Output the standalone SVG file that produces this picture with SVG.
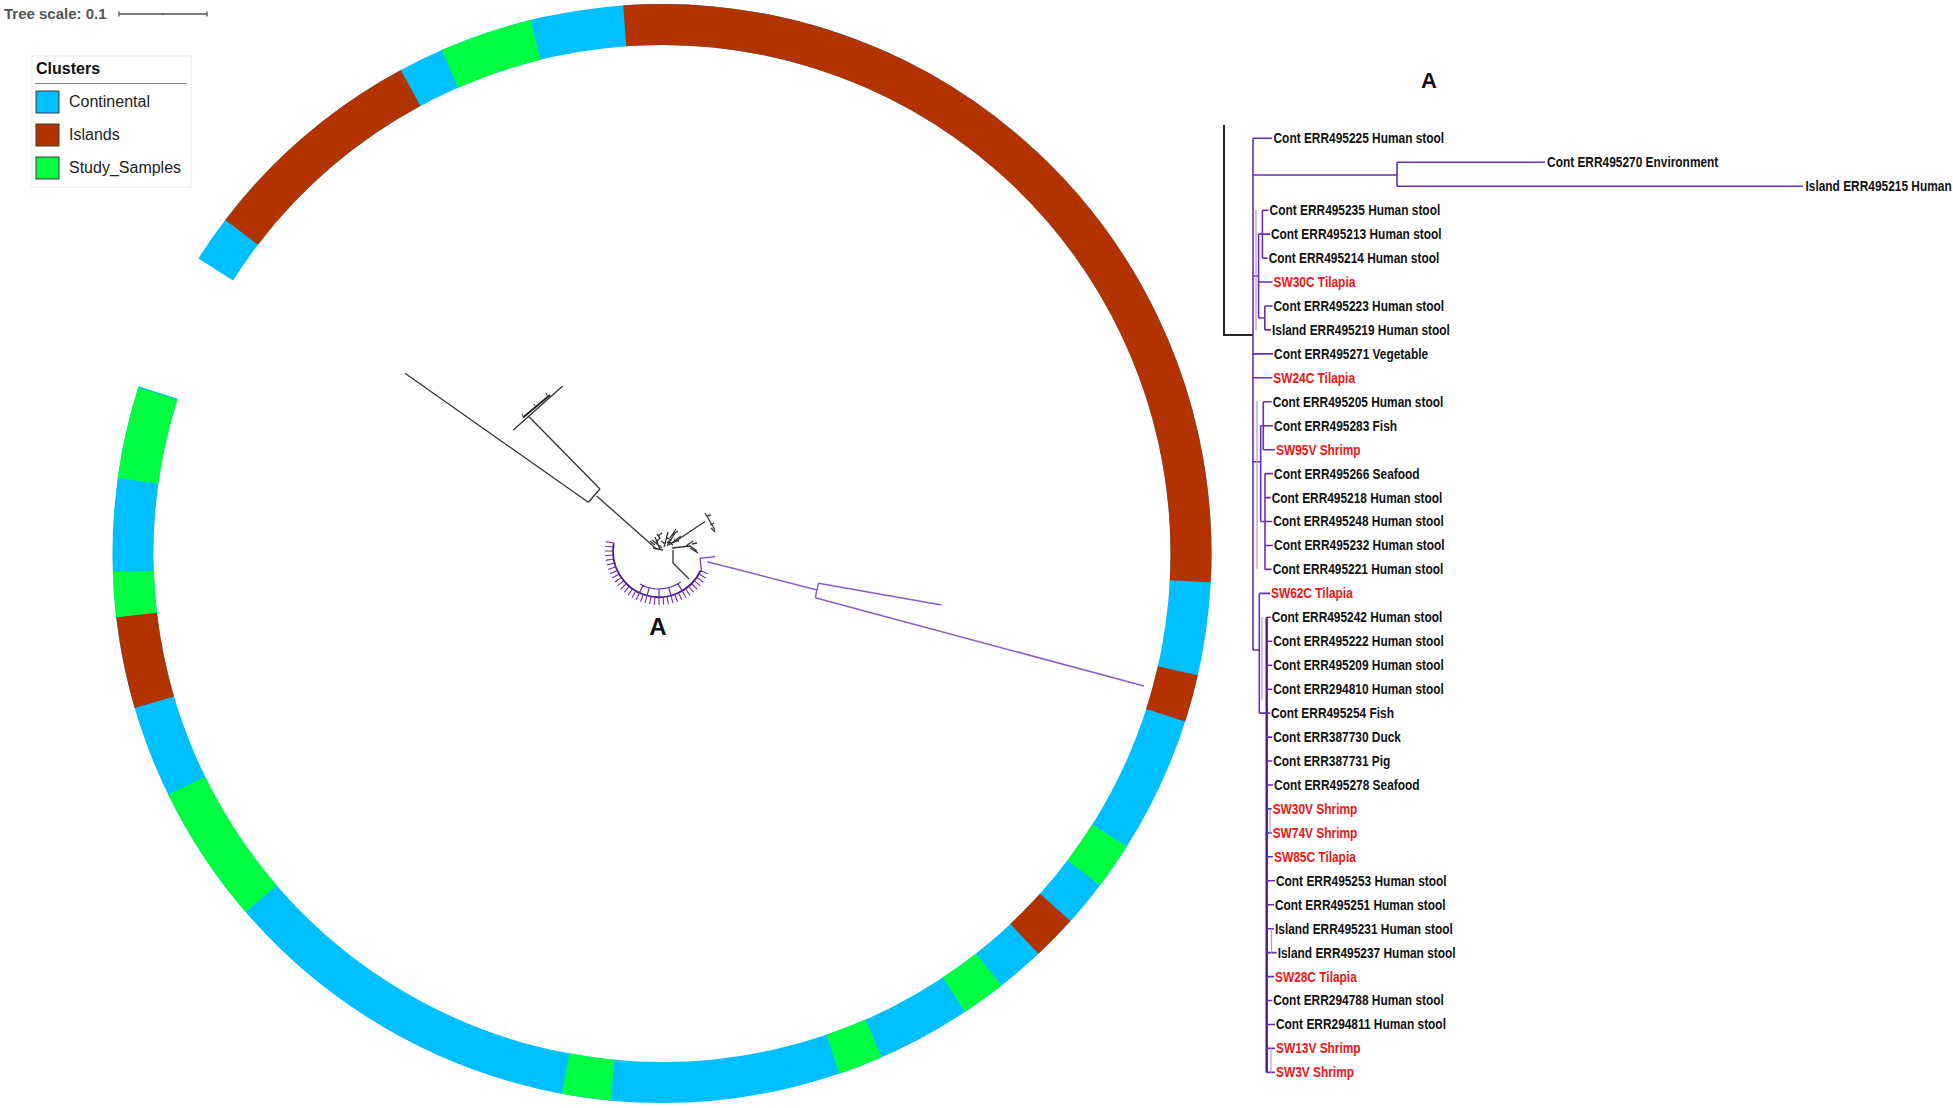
<svg xmlns="http://www.w3.org/2000/svg" width="1953" height="1108" viewBox="0 0 1953 1108">
<style>
  .seg { fill: none; stroke-width: 41; }
  .blue { stroke: #00bfff; }
  .brown { stroke: #b23300; }
  .green { stroke: #00ff40; }
  .lbl { font-family: "Liberation Sans", Arial, sans-serif; font-weight: bold; font-size: 14px; fill: #111; }
  .red { fill: #f01414; }
  .pl { fill: none; stroke: #6a2fb0; stroke-width: 1.6; }
  .bk { fill: none; stroke: #333; stroke-width: 1.3; }
  .leg { font-family: "Liberation Sans", Arial, sans-serif; font-size: 16px; fill: #222; }
</style>
<rect width="1953" height="1108" fill="#ffffff"/>

<g id="tree-scale">
  <text x="4" y="19" font-family="Liberation Sans, Arial, sans-serif" font-weight="bold" font-size="15" fill="#555">Tree scale: 0.1</text>
  <path d="M119,14 H207 M119,11.5 V16.5 M207,11.5 V16.5 M163,13 V15" stroke="#555" stroke-width="1.3" fill="none"/>
</g>

<g id="legend">
  <rect x="32" y="56" width="159" height="131" fill="#fff" stroke="#ececec" stroke-width="1"/>
  <text x="36" y="74" font-family="Liberation Sans, Arial, sans-serif" font-weight="bold" font-size="16" fill="#111">Clusters</text>
  <line x1="35" y1="83.5" x2="187" y2="83.5" stroke="#8a8a8a" stroke-width="1.2"/>
  <rect x="36" y="91" width="23" height="22" fill="#00bfff" stroke="#3a3a3a" stroke-width="1"/>
  <text class="leg" x="69" y="107">Continental</text>
  <rect x="36" y="124" width="23" height="22" fill="#b23300" stroke="#3a3a3a" stroke-width="1"/>
  <text class="leg" x="69" y="140">Islands</text>
  <rect x="36" y="157" width="23" height="22" fill="#00ff40" stroke="#3a3a3a" stroke-width="1"/>
  <text class="leg" x="69" y="173">Study_Samples</text>
</g>

<g id="cluster-ring">
  <circle class="seg blue" cx="662" cy="553.5" r="529" pathLength="360" stroke-dasharray="345.25 400" transform="rotate(212.47 662 553.5)"/>
  <circle class="seg brown" cx="662" cy="553.5" r="529" pathLength="360" stroke-dasharray="24.24 400" transform="rotate(217.38 662 553.5)"/>
  <circle class="seg green" cx="662" cy="553.5" r="529" pathLength="360" stroke-dasharray="9.8 400" transform="rotate(246.37 662 553.5)"/>
  <circle class="seg brown" cx="662" cy="553.5" r="529" pathLength="360" stroke-dasharray="97.05 400" transform="rotate(265.96 662 553.5)"/>
  <circle class="seg brown" cx="662" cy="553.5" r="529" pathLength="360" stroke-dasharray="5.0 400" transform="rotate(12.8 662 553.5)"/>
  <circle class="seg green" cx="662" cy="553.5" r="529" pathLength="360" stroke-dasharray="4.92 400" transform="rotate(32.22 662 553.5)"/>
  <circle class="seg brown" cx="662" cy="553.5" r="529" pathLength="360" stroke-dasharray="4.77 400" transform="rotate(41.99 662 553.5)"/>
  <circle class="seg green" cx="662" cy="553.5" r="529" pathLength="360" stroke-dasharray="4.65 400" transform="rotate(51.85 662 553.5)"/>
  <circle class="seg green" cx="662" cy="553.5" r="529" pathLength="360" stroke-dasharray="4.72 400" transform="rotate(66.43 662 553.5)"/>
  <circle class="seg green" cx="662" cy="553.5" r="529" pathLength="360" stroke-dasharray="5.14 400" transform="rotate(95.36 662 553.5)"/>
  <circle class="seg green" cx="662" cy="553.5" r="529" pathLength="360" stroke-dasharray="14.69 400" transform="rotate(139.28 662 553.5)"/>
  <circle class="seg brown" cx="662" cy="553.5" r="529" pathLength="360" stroke-dasharray="9.67 400" transform="rotate(163.67 662 553.5)"/>
  <circle class="seg green" cx="662" cy="553.5" r="529" pathLength="360" stroke-dasharray="4.72 400" transform="rotate(173.34 662 553.5)"/>
  <circle class="seg green" cx="662" cy="553.5" r="529" pathLength="360" stroke-dasharray="9.7 400" transform="rotate(187.89 662 553.5)"/>
</g>

<g id="circular-tree">
  <g id="black-subtree">
    <path class="bk" d="M656.7,549.3 L596.7,496 M588.3,502.3 L600,489 M588.3,502.3 L405,373.3 M600,489 L528.3,416 M513.3,430 L562.7,386"/>
    <path d="M523,417.5 L550,395" stroke="#222" stroke-width="1.9" fill="none"/>
    <path d="M524,418 L522,414 M536,407 L534,404 M548,397 L546,393" stroke="#333" stroke-width="1" fill="none"/>
    <path class="bk" d="M673,543 L705,521.5 M705,513 L715,530 M707,516 L711,515 M710,525 L714,523 M711,528 L715,532"/>
    <path class="bk" d="M660,549 L655,537 M662,548 L652,540 M664,547 L668,532 M667,546 L675,533 M669,545 L681,536 M663,550 L653,548 M656,542 L660,538 L657,534 M666,537 L671,540 L667,543 M672,535 L678,531 M674,540 L679,541 M661,541 L665,544 M655,545 L650,541 M658,536 L662,533 M670,538 L676,529 M668,541 L673,545"/>
    <path class="bk" d="M672,548 L690,546 L697,551 M686,546 L693,541 M690,548 L698,553 M692,544 L697,543"/>
    <path class="bk" d="M673,550 L673,563 L689,579"/>
  </g>
  <g id="purple-clade">
    <path d="M700.7,570.5 A46,46 0 0 1 613.7,543" fill="none" stroke="#4a1a90" stroke-width="1.8"/>
    <path d="M680.8,582.1 A38,38 0 0 1 640,583.9 M678,583.9 L682,590.8 M668.8,587.7 L670.9,595.4 M659,589 L659,597 M649.2,587.7 L647.1,595.4 M642.9,585.4 L639.5,592.7" fill="none" stroke="#6a2fb0" stroke-width="1.2"/>
    <path d="M700.7,570.5 L707.9,573.8 M698.8,574 L705.8,578 M696.7,577.4 L703.2,582 M694.2,580.6 L700.4,585.7 M691.5,583.5 L697.2,589.2 M688.6,586.2 L693.7,592.4 M685.4,588.7 L690,595.2 M682,590.8 L686,597.8 M678.5,592.7 L681.8,599.9 M674.7,594.2 L677.5,601.8 M670.9,595.4 L673,603.2 M667,596.3 L668.4,604.2 M663,596.8 L663.7,604.8 M659,597 L659,605 M655,596.8 L654.3,604.8 M651,596.3 L649.6,604.2 M647.1,595.4 L645,603.2 M643.3,594.2 L640.5,601.8 M639.5,592.7 L636.2,599.9 M636,590.8 L632,597.8 M632.6,588.7 L628,595.2 M629.4,586.2 L624.3,592.4 M626.5,583.5 L620.8,589.2 M623.8,580.6 L617.6,585.7 M621.3,577.4 L614.8,582 M619.2,574 L612.2,578 M617.3,570.5 L610.1,573.8 M615.8,566.7 L608.2,569.5 M614.6,562.9 L606.8,565 M613.7,559 L605.8,560.4 M613.2,555 L605.2,555.7 M613,551 L605,551 M613.2,547 L605.2,546.3 M613.7,543 L605.8,541.6" fill="none" stroke="#6a2fb0" stroke-width="1.1"/>
    <path d="M701.7,572 L700,558.3 L715,556.7" fill="none" stroke="#7a45c0" stroke-width="1.3"/>
    <path d="M707.3,561.7 L817,590 M818.4,583.3 L815.3,597.7 M818.4,583.3 L941.6,605 M815.3,597.7 L1144,686" fill="none" stroke="#8a5cc8" stroke-width="1.5"/>
  </g>
  <text id="label-A-center" x="658" y="635" text-anchor="middle" font-family="Liberation Sans, Arial, sans-serif" font-weight="bold" font-size="24" fill="#111">A</text>
</g>

<g id="rect-tree">
  <text id="label-A-right" x="1429" y="88" text-anchor="middle" font-family="Liberation Sans, Arial, sans-serif" font-weight="bold" font-size="22" fill="#111">A</text>
  <g id="connectors">
    <path d="M1224,125 V335 H1253" fill="none" stroke="#222" stroke-width="2"/>
    <path class="pl" d="M1253,138.3 V650 M1253,138.3 H1272
      M1253,175 H1397 M1397,162.3 V186.2 M1397,162.3 H1545 M1397,186.2 H1803
      M1262.4,210.2 V258.1 M1262.4,210.2 H1268.5 M1262.4,234.1 H1270 M1262.4,258.1 H1267.5
      M1258.6,234.1 H1262.4 M1264.8,306 V329.9 M1264.8,306 H1272.5 M1264.8,329.9 H1271
      M1258.6,318 H1264.8 M1258.6,234.1 V318 M1258.6,282 H1272.5 M1253,276 H1258.6
      M1253,353.9 H1273 M1253,377.8 H1272.3
      M1263.3,401.8 V449.7 M1263.3,401.8 H1271.7 M1263.3,425.7 H1273 M1263.3,449.7 H1275
      M1265,473.6 V569.4 M1265,473.6 H1273 M1265,497.6 H1270.7 M1265,521.5 H1272.3 M1265,545.5 H1273 M1265,569.4 H1271.7
      M1260.7,425.7 V521.5 M1260.7,425.7 H1263.3 M1260.7,521.5 H1265 M1253,461.7 H1260.7
      M1259.3,593.4 V713.1 M1259.3,593.4 H1270 M1253,650 H1259.3 M1259.3,713.1 H1266.7"/>
    <path d="M1266.7,617.3 V1072.4" fill="none" stroke="#4a1a8c" stroke-width="2.4"/>
    <path class="pl" d="M1266.7,617.3 H1270.7 M1266.7,641.3 H1272.3 M1266.7,665.2 H1272.3 M1266.7,689.2 H1272.3 M1266.7,713.1 H1270
      M1266.7,737.1 H1272.3 M1266.7,761 H1272.3 M1266.7,785 H1273 M1266.7,808.9 H1271.7 M1266.7,832.9 H1271.7
      M1266.7,856.8 H1273 M1266.7,880.8 H1275 M1266.7,904.7 H1274 M1266.7,928.7 H1274 M1266.7,952.6 H1276.7
      M1266.7,976.6 H1274 M1266.7,1000.5 H1272.3 M1266.7,1024.5 H1275 M1266.7,1048.4 H1275 M1266.7,1072.4 H1275"/>
    <path d="M1270,809 V833 M1271,1048.4 V1072.4 M1271.5,928.7 V952.6 M1256,210 V330 M1257,401 V569 M1262,617 V700" fill="none" stroke="#b49ad6" stroke-width="1.2"/>
  </g>
  <g id="tip-labels" transform="scale(0.851 1)">
    <g id="n0"><text class="lbl" x="1496.5" y="143.3">Cont ERR495225 Human stool</text></g>
    <g id="n1"><text class="lbl" x="1817.9" y="167.3">Cont ERR495270 Environment</text></g>
    <g id="n2"><text class="lbl" x="2121.6" y="191.2">Island ERR495215 Human</text></g>
    <g id="n3"><text class="lbl" x="1491.9" y="215.2">Cont ERR495235 Human stool</text></g>
    <g id="n4"><text class="lbl" x="1493.5" y="239.1">Cont ERR495213 Human stool</text></g>
    <g id="n5"><text class="lbl" x="1490.8" y="263.1">Cont ERR495214 Human stool</text></g>
    <g id="n6"><text class="lbl red" x="1496.5" y="287">SW30C Tilapia</text></g>
    <g id="n7"><text class="lbl" x="1496.5" y="311">Cont ERR495223 Human stool</text></g>
    <g id="n8"><text class="lbl" x="1494.7" y="334.9">Island ERR495219 Human stool</text></g>
    <g id="n9"><text class="lbl" x="1497.1" y="358.9">Cont ERR495271 Vegetable</text></g>
    <g id="n10"><text class="lbl red" x="1496.2" y="382.8">SW24C Tilapia</text></g>
    <g id="n11"><text class="lbl" x="1495.5" y="406.8">Cont ERR495205 Human stool</text></g>
    <g id="n12"><text class="lbl" x="1497.1" y="430.7">Cont ERR495283 Fish</text></g>
    <g id="n13"><text class="lbl red" x="1499.4" y="454.7">SW95V Shrimp</text></g>
    <g id="n14"><text class="lbl" x="1497.1" y="478.6">Cont ERR495266 Seafood</text></g>
    <g id="n15"><text class="lbl" x="1494.4" y="502.6">Cont ERR495218 Human stool</text></g>
    <g id="n16"><text class="lbl" x="1496.2" y="526.5">Cont ERR495248 Human stool</text></g>
    <g id="n17"><text class="lbl" x="1497.1" y="550.5">Cont ERR495232 Human stool</text></g>
    <g id="n18"><text class="lbl" x="1495.5" y="574.4">Cont ERR495221 Human stool</text></g>
    <g id="n19"><text class="lbl red" x="1493.5" y="598.4">SW62C Tilapia</text></g>
    <g id="n20"><text class="lbl" x="1494.4" y="622.3">Cont ERR495242 Human stool</text></g>
    <g id="n21"><text class="lbl" x="1496.2" y="646.3">Cont ERR495222 Human stool</text></g>
    <g id="n22"><text class="lbl" x="1496.2" y="670.2">Cont ERR495209 Human stool</text></g>
    <g id="n23"><text class="lbl" x="1496.2" y="694.2">Cont ERR294810 Human stool</text></g>
    <g id="n24"><text class="lbl" x="1493.5" y="718.1">Cont ERR495254 Fish</text></g>
    <g id="n25"><text class="lbl" x="1496.2" y="742.1">Cont ERR387730 Duck</text></g>
    <g id="n26"><text class="lbl" x="1496.2" y="766">Cont ERR387731 Pig</text></g>
    <g id="n27"><text class="lbl" x="1497.1" y="790">Cont ERR495278 Seafood</text></g>
    <g id="n28"><text class="lbl red" x="1495.5" y="813.9">SW30V Shrimp</text></g>
    <g id="n29"><text class="lbl red" x="1495.5" y="837.9">SW74V Shrimp</text></g>
    <g id="n30"><text class="lbl red" x="1497.1" y="861.8">SW85C Tilapia</text></g>
    <g id="n31"><text class="lbl" x="1499.4" y="885.8">Cont ERR495253 Human stool</text></g>
    <g id="n32"><text class="lbl" x="1498.2" y="909.7">Cont ERR495251 Human stool</text></g>
    <g id="n33"><text class="lbl" x="1498.2" y="933.7">Island ERR495231 Human stool</text></g>
    <g id="n34"><text class="lbl" x="1501.4" y="957.6">Island ERR495237 Human stool</text></g>
    <g id="n35"><text class="lbl red" x="1498.2" y="981.6">SW28C Tilapia</text></g>
    <g id="n36"><text class="lbl" x="1496.2" y="1005.5">Cont ERR294788 Human stool</text></g>
    <g id="n37"><text class="lbl" x="1499.4" y="1029.5">Cont ERR294811 Human stool</text></g>
    <g id="n38"><text class="lbl red" x="1499.4" y="1053.4">SW13V Shrimp</text></g>
    <g id="n39"><text class="lbl red" x="1499.4" y="1077.4">SW3V Shrimp</text></g>
  </g>
</g>
</svg>
